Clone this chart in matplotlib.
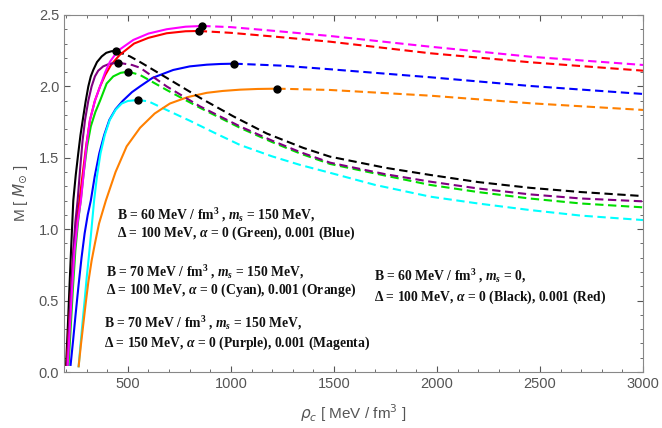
import matplotlib
matplotlib.use("Agg")
import matplotlib.pyplot as plt
from matplotlib.ticker import MultipleLocator, FormatStrFormatter

# bold serif for the math inside the parameter notes
plt.rcParams["mathtext.rm"] = "Liberation Serif:bold"
plt.rcParams["mathtext.it"] = "Liberation Serif:italic:bold"
plt.rcParams["mathtext.bf"] = "Liberation Serif:bold"

# stable branches (solid, up to the maximum mass)
rho_black_s = [200, 208, 216, 225, 235, 247, 259, 270, 281, 295, 308, 320, 332, 350, 373, 395, 420, 442]
m_black_s = [0.05, 0.30, 0.58, 0.88, 1.20, 1.38, 1.53, 1.66, 1.765, 1.895, 2.00, 2.07, 2.115, 2.17, 2.21, 2.235, 2.246, 2.248]
rho_red_s = [203, 213, 224, 236, 250, 265, 280, 297, 316, 340, 365, 390, 418, 460, 530, 600, 688, 780, 844]
m_red_s = [0.05, 0.30, 0.58, 0.85, 1.05, 1.20, 1.38, 1.58, 1.765, 1.90, 2.00, 2.08, 2.15, 2.22, 2.30, 2.34, 2.372, 2.386, 2.388]
rho_mag_s = [208, 218, 229, 241, 256, 272, 286, 300, 316, 340, 365, 390, 413, 452, 526, 600, 688, 780, 861]
m_mag_s = [0.05, 0.30, 0.58, 0.85, 1.05, 1.20, 1.40, 1.60, 1.765, 1.90, 2.00, 2.10, 2.173, 2.25, 2.325, 2.37, 2.40, 2.418, 2.423]
rho_pur_s = [205, 214, 224, 235, 245, 256, 268, 280, 292, 308, 324, 340, 356, 380, 410, 452]
m_pur_s = [0.05, 0.30, 0.58, 0.85, 1.05, 1.20, 1.42, 1.62, 1.765, 1.90, 2.00, 2.07, 2.11, 2.14, 2.158, 2.166]
rho_grn_s = [212, 222, 233, 245, 258, 271, 286, 302, 320, 342, 365, 397, 429, 465, 502]
m_grn_s = [0.05, 0.30, 0.58, 0.85, 1.05, 1.20, 1.40, 1.58, 1.72, 1.82, 1.90, 2.02, 2.07, 2.095, 2.103]
rho_blu_s = [222, 234, 246, 260, 275, 290, 305, 320, 339, 361, 385, 410, 440, 476, 520, 559, 620, 720, 800, 883, 950, 1017]
m_blu_s = [0.05, 0.22, 0.40, 0.60, 0.80, 0.97, 1.10, 1.20, 1.37, 1.53, 1.66, 1.765, 1.84, 1.90, 1.96, 2.00, 2.06, 2.115, 2.14, 2.152, 2.157, 2.159]
rho_cyn_s = [261, 270, 280, 290, 300, 310, 320, 336, 350, 367, 388, 412, 440, 470, 500, 548]
m_cyn_s = [0.04, 0.19, 0.35, 0.50, 0.66, 0.80, 0.95, 1.20, 1.37, 1.53, 1.66, 1.765, 1.835, 1.88, 1.898, 1.905]
rho_org_s = [261, 272, 284, 296, 308, 324, 340, 360, 393, 440, 494, 559, 630, 704, 790, 883, 960, 1044, 1130, 1225]
m_org_s = [0.04, 0.19, 0.34, 0.49, 0.63, 0.78, 0.90, 1.04, 1.20, 1.40, 1.58, 1.71, 1.81, 1.88, 1.925, 1.955, 1.968, 1.977, 1.982, 1.984]

# unstable branches (dashed, beyond the maximum mass)
rho_black_d = [442, 510, 560, 688, 850, 1012, 1174, 1350, 1481, 1750, 1967, 2200, 2450, 2700, 3000]
m_black_d = [2.248, 2.21, 2.17, 2.06, 1.92, 1.79, 1.67, 1.57, 1.508, 1.43, 1.38, 1.33, 1.29, 1.26, 1.232]
rho_red_d = [844, 1000, 1200, 1481, 1967, 2452, 3000]
m_red_d = [2.388, 2.375, 2.35, 2.313, 2.232, 2.169, 2.110]
rho_mag_d = [861, 1000, 1200, 1481, 1967, 2452, 3000]
m_mag_d = [2.423, 2.415, 2.39, 2.353, 2.278, 2.208, 2.150]
rho_pur_d = [452, 520, 560, 688, 850, 1044, 1200, 1336, 1481, 1750, 1967, 2200, 2450, 2700, 3000]
m_pur_d = [2.166, 2.15, 2.13, 2.00, 1.86, 1.72, 1.62, 1.54, 1.466, 1.385, 1.333, 1.285, 1.244, 1.215, 1.195]
rho_grn_d = [502, 559, 688, 850, 1044, 1200, 1336, 1481, 1750, 1967, 2200, 2450, 2700, 3000]
m_grn_d = [2.103, 2.08, 1.975, 1.85, 1.71, 1.61, 1.53, 1.457, 1.375, 1.31, 1.26, 1.215, 1.18, 1.153]
rho_blu_d = [1017, 1250, 1481, 1967, 2452, 3000]
m_blu_d = [2.159, 2.145, 2.12, 2.064, 2.003, 1.947]
rho_cyn_d = [548, 600, 688, 800, 920, 1044, 1200, 1336, 1481, 1700, 1967, 2200, 2452, 2700, 3000]
m_cyn_d = [1.905, 1.895, 1.835, 1.76, 1.675, 1.59, 1.51, 1.45, 1.395, 1.31, 1.228, 1.18, 1.134, 1.095, 1.064]
rho_org_d = [1225, 1481, 1967, 2452, 3000]
m_org_d = [1.984, 1.975, 1.935, 1.882, 1.835]

curves = [
    ("#00dd00", rho_grn_s, m_grn_s, rho_grn_d, m_grn_d),
    ("#0000ff", rho_blu_s, m_blu_s, rho_blu_d, m_blu_d),
    ("#00ffff", rho_cyn_s, m_cyn_s, rho_cyn_d, m_cyn_d),
    ("#ff8000", rho_org_s, m_org_s, rho_org_d, m_org_d),
    ("black", rho_black_s, m_black_s, rho_black_d, m_black_d),
    ("#ff0000", rho_red_s, m_red_s, rho_red_d, m_red_d),
    ("#800080", rho_pur_s, m_pur_s, rho_pur_d, m_pur_d),
    ("#ff00ff", rho_mag_s, m_mag_s, rho_mag_d, m_mag_d),
]

notes = [
    (447, 1.10, r"B = 60 MeV / $\mathrm{fm}^{3}$ , $m_s$ = 150 MeV,"),
    (447, 0.97, r"Δ = 100 MeV, $\alpha$ = 0 (Green), 0.001 (Blue)"),
    (394, 0.70, r"B = 70 MeV / $\mathrm{fm}^{3}$ , $m_s$ = 150 MeV,"),
    (394, 0.57, r"Δ = 100 MeV, $\alpha$ = 0 (Cyan), 0.001 (Orange)"),
    (384, 0.34, r"B = 70 MeV / $\mathrm{fm}^{3}$ , $m_s$ = 150 MeV,"),
    (384, 0.20, r"Δ = 150 MeV, $\alpha$ = 0 (Purple), 0.001 (Magenta)"),
    (1695, 0.67, r"B = 60 MeV / $\mathrm{fm}^{3}$ , $m_s$ = 0,"),
    (1695, 0.52, r"Δ = 100 MeV, $\alpha$ = 0 (Black), 0.001 (Red)"),
]

fig = plt.figure(figsize=(6.62, 4.28), dpi=100)
ax = fig.add_axes([0.0967, 0.1308, 0.8746, 0.8342])

for col, rs, ms, rd, md in curves:
    ax.plot(rs, ms, "-", color=col, lw=1.5)
    ax.plot(rd, md, "--", color=col, lw=1.5, dashes=(4, 2.2))
# maximum-mass points
for col, rs, ms, rd, md in curves:
    ax.plot(rs[-1], ms[-1], "o", color="black", markersize=5, zorder=5)

for x, y, s in notes:
    t = ax.text(x, y, s, fontsize=9.8, fontweight="bold", family="Liberation Serif",
                va="center", ha="left", color="#111111")
    t.get_fontproperties().set_math_fontfamily("custom")

gray = "#555555"
ax.set_xlim(190, 3000)
ax.set_ylim(0, 2.5)
ax.xaxis.set_major_locator(MultipleLocator(500))
ax.xaxis.set_minor_locator(MultipleLocator(100))
ax.yaxis.set_major_locator(MultipleLocator(0.5))
ax.yaxis.set_minor_locator(MultipleLocator(0.1))
ax.yaxis.set_major_formatter(FormatStrFormatter("%.1f"))
ax.tick_params(which="both", direction="in", top=True, right=True, colors=gray,
               labelsize=10.5)
ax.tick_params(which="major", length=4.5, width=0.8)
ax.tick_params(which="minor", length=2.5, width=0.6)
for lab in ax.get_xticklabels() + ax.get_yticklabels():
    lab.set_family("Liberation Sans")
for sp in ax.spines.values():
    sp.set_color("#888888")
    sp.set_linewidth(0.8)

ax.set_xlabel(r"$\rho_c$ [ MeV / fm$^{3}$ ]", fontsize=11, color=gray,
              family="Liberation Sans", math_fontfamily="dejavusans", labelpad=8)
ax.set_ylabel(r"M [ $M_{\odot}$ ]", fontsize=11, color=gray,
              family="Liberation Sans", math_fontfamily="dejavusans", labelpad=6)

fig.savefig("out.png", dpi=100)
